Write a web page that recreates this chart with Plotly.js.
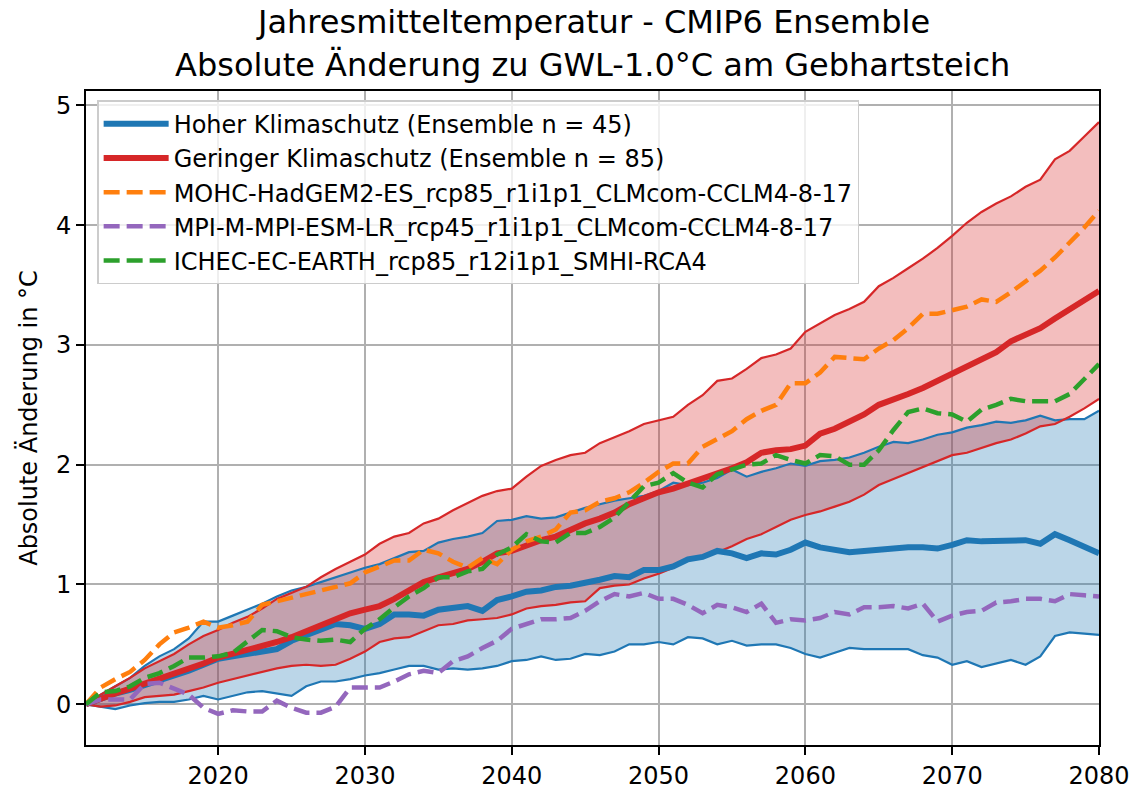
<!DOCTYPE html>
<html>
<head>
<meta charset="utf-8">
<script src="https://cdn.plot.ly/plotly-3.0.1.min.js"></script>
<style>html,body{margin:0;padding:0;background:#fff;}#chart{width:1139px;height:791px;}</style>
</head>
<body>
<div id="chart"></div>
<script>
const startYear = 2011, endYear = 2080;
const years = [];
for (let y = startYear; y <= endYear; y++) years.push(y);

const hoherMean = [0,0.05,0.09,0.12,0.16,0.19,0.23,0.28,0.33,0.38,0.40,0.42,0.44,0.46,0.53,0.58,0.62,0.67,0.66,0.63,0.67,0.75,0.75,0.74,0.79,0.81,0.82,0.78,0.87,0.90,0.94,0.95,0.98,0.99,1.01,1.04,1.07,1.06,1.12,1.12,1.15,1.21,1.23,1.28,1.26,1.22,1.26,1.25,1.29,1.35,1.31,1.29,1.27,1.28,1.29,1.31,1.31,1.31,1.30,1.33,1.37,1.36,1.36,1.36,1.37,1.34,1.42,1.37,1.31,1.26];
const hoherUpper = [0,0.08,0.15,0.22,0.32,0.40,0.46,0.55,0.69,0.69,0.74,0.79,0.84,0.90,0.95,0.98,1.02,1.06,1.10,1.14,1.17,1.22,1.27,1.28,1.35,1.38,1.40,1.43,1.53,1.54,1.57,1.55,1.56,1.60,1.64,1.67,1.70,1.72,1.74,1.78,1.85,1.83,1.85,1.89,1.96,1.90,1.94,1.97,2.01,1.99,2.03,2.04,2.06,2.10,2.15,2.19,2.18,2.21,2.25,2.27,2.31,2.33,2.36,2.35,2.37,2.41,2.37,2.38,2.38,2.45];
const hoherLower = [0,-0.02,-0.04,-0.01,0.01,0.02,0.02,0.04,0.07,0.04,0.07,0.10,0.11,0.09,0.07,0.15,0.19,0.19,0.21,0.24,0.26,0.29,0.32,0.32,0.29,0.30,0.29,0.30,0.32,0.36,0.37,0.40,0.37,0.38,0.42,0.41,0.44,0.50,0.50,0.52,0.50,0.56,0.55,0.50,0.53,0.49,0.50,0.50,0.47,0.42,0.39,0.43,0.47,0.46,0.46,0.46,0.46,0.41,0.39,0.33,0.36,0.31,0.34,0.37,0.33,0.40,0.57,0.60,0.59,0.58];

const geringerMean = [0,0.05,0.09,0.13,0.17,0.21,0.25,0.30,0.34,0.39,0.42,0.46,0.49,0.52,0.56,0.61,0.67,0.72,0.76,0.79,0.82,0.88,0.95,1.02,1.06,1.09,1.13,1.19,1.26,1.28,1.33,1.37,1.40,1.46,1.51,1.55,1.60,1.67,1.72,1.77,1.80,1.84,1.89,1.93,1.97,2.02,2.10,2.12,2.13,2.16,2.26,2.30,2.36,2.42,2.50,2.54,2.59,2.64,2.70,2.77,2.83,2.88,2.94,3.03,3.08,3.14,3.22,3.30,3.37,3.45];
const geringerUpper = [0,0.08,0.15,0.22,0.30,0.36,0.42,0.50,0.57,0.62,0.68,0.73,0.80,0.88,0.93,0.98,1.06,1.13,1.19,1.25,1.34,1.40,1.43,1.51,1.55,1.62,1.68,1.74,1.78,1.80,1.90,1.99,2.04,2.08,2.10,2.18,2.23,2.28,2.34,2.37,2.40,2.50,2.58,2.70,2.72,2.80,2.89,2.92,2.97,3.11,3.18,3.25,3.30,3.36,3.49,3.56,3.64,3.72,3.81,3.91,4.02,4.11,4.18,4.24,4.32,4.38,4.55,4.62,4.74,4.86];
const geringerLower = [0,-0.02,-0.01,0.02,0.06,0.07,0.08,0.11,0.14,0.18,0.21,0.24,0.27,0.30,0.32,0.33,0.32,0.33,0.38,0.44,0.52,0.55,0.56,0.61,0.66,0.67,0.70,0.71,0.72,0.75,0.80,0.82,0.83,0.85,0.86,0.97,0.99,1.00,1.05,1.09,1.14,1.21,1.23,1.27,1.32,1.38,1.42,1.48,1.54,1.58,1.61,1.65,1.69,1.75,1.83,1.88,1.93,1.98,2.03,2.08,2.10,2.14,2.18,2.21,2.26,2.32,2.34,2.40,2.47,2.55];

const mohc = [0,0.14,0.21,0.27,0.37,0.50,0.60,0.64,0.69,0.64,0.66,0.69,0.83,0.86,0.89,0.92,0.95,0.98,1.01,1.10,1.15,1.20,1.20,1.29,1.26,1.19,1.14,1.22,1.17,1.29,1.36,1.40,1.46,1.60,1.62,1.69,1.72,1.77,1.85,1.94,2.01,2.01,2.15,2.21,2.28,2.38,2.45,2.50,2.68,2.68,2.77,2.90,2.89,2.88,2.97,3.04,3.14,3.26,3.26,3.29,3.32,3.38,3.36,3.44,3.53,3.62,3.73,3.85,3.98,4.12];
const mpi = [0,0.04,0.04,0.04,0.17,0.18,0.13,0.08,-0.03,-0.08,-0.05,-0.06,-0.06,0.03,-0.03,-0.07,-0.07,-0.02,0.14,0.14,0.14,0.19,0.25,0.28,0.26,0.36,0.40,0.47,0.53,0.63,0.67,0.71,0.71,0.72,0.78,0.86,0.92,0.90,0.93,0.88,0.88,0.83,0.76,0.83,0.81,0.77,0.84,0.68,0.71,0.70,0.72,0.77,0.75,0.81,0.81,0.82,0.80,0.84,0.69,0.74,0.77,0.78,0.85,0.86,0.88,0.88,0.86,0.92,0.91,0.90];
const ichec = [0,0.10,0.11,0.15,0.22,0.26,0.32,0.39,0.39,0.40,0.43,0.53,0.62,0.61,0.56,0.54,0.53,0.54,0.52,0.63,0.71,0.81,0.90,0.97,1.06,1.06,1.11,1.13,1.25,1.31,1.42,1.36,1.35,1.43,1.43,1.48,1.56,1.69,1.82,1.85,1.93,1.85,1.81,1.92,1.96,2.00,2.01,2.08,2.04,2.01,2.08,2.07,2.00,2.00,2.12,2.29,2.44,2.47,2.43,2.42,2.36,2.46,2.50,2.55,2.53,2.53,2.53,2.59,2.72,2.84];

const labels = [
  "Hoher Klimaschutz (Ensemble n = 45)",
  "Geringer Klimaschutz (Ensemble n = 85)",
  "MOHC-HadGEM2-ES_rcp85_r1i1p1_CLMcom-CCLM4-8-17",
  "MPI-M-MPI-ESM-LR_rcp45_r1i1p1_CLMcom-CCLM4-8-17",
  "ICHEC-EC-EARTH_rcp85_r12i1p1_SMHI-RCA4"
];
const titleLines = ["Jahresmitteltemperatur - CMIP6 Ensemble", "Absolute Änderung zu GWL-1.0°C am Gebhartsteich"];
const xTicks = [2020, 2030, 2040, 2050, 2060, 2070, 2080];
const yTicks = [0, 1, 2, 3, 4, 5];

const BLUE = "#1f77b4", RED = "#d62728", ORANGE = "#ff7f0e", PURPLE = "#9467bd", GREEN = "#2ca02c";
const DASH = "16px,7px";

function band(y, fill, fillcolor) {
  const t = {x: years, y: y, mode: "lines", line: {width: 0, color: "rgba(0,0,0,0)"}, showlegend: false, hoverinfo: "skip"};
  if (fill) { t.fill = "tonexty"; t.fillcolor = fillcolor; }
  return t;
}
function edge(y, color) {
  return {x: years, y: y, mode: "lines", line: {color: color, width: 2.2}, showlegend: false, hoverinfo: "skip"};
}

const traces = [
  band(hoherLower, false),
  band(hoherUpper, true, "rgba(31,119,180,0.3)"),
  band(geringerLower, false),
  band(geringerUpper, true, "rgba(214,39,40,0.3)"),
  edge(hoherLower, BLUE),
  edge(hoherUpper, BLUE),
  edge(geringerLower, RED),
  edge(geringerUpper, RED),
  {x: years, y: hoherMean, mode: "lines", name: labels[0], line: {color: BLUE, width: 6}},
  {x: years, y: geringerMean, mode: "lines", name: labels[1], line: {color: RED, width: 6}},
  {x: years, y: mohc, mode: "lines", name: labels[2], line: {color: ORANGE, width: 4.5, dash: DASH}},
  {x: years, y: mpi, mode: "lines", name: labels[3], line: {color: PURPLE, width: 4.5, dash: DASH}},
  {x: years, y: ichec, mode: "lines", name: labels[4], line: {color: GREEN, width: 4.5, dash: DASH}}
];

const layout = {
  width: 1139, height: 791,
  paper_bgcolor: "#fff", plot_bgcolor: "#fff",
  font: {family: "DejaVu Sans", size: 24, color: "#000"},
  margin: {l: 86, r: 40, t: 91, b: 46},
  annotations: [
    {text: titleLines[0], xref: "paper", yref: "paper", x: 0.5, y: 1.1055, xanchor: "center", yanchor: "middle", showarrow: false, font: {family: "DejaVu Sans", size: 32, color: "#000"}},
    {text: titleLines[1], xref: "paper", yref: "paper", x: 0.5, y: 1.0398, xanchor: "center", yanchor: "middle", showarrow: false, font: {family: "DejaVu Sans", size: 32, color: "#000"}}
  ],
  xaxis: {
    range: [2011, 2080], tickvals: xTicks, ticktext: xTicks.map(String),
    showgrid: true, gridcolor: "#b0b0b0", gridwidth: 2,
    zeroline: false, showline: true, linecolor: "#000", linewidth: 2, mirror: true,
    ticks: "outside", ticklen: 8, tickwidth: 2, tickcolor: "#000",
    tickfont: {size: 24}
  },
  yaxis: {
    range: [-0.34, 5.12], tickvals: yTicks, ticktext: yTicks.map(String),
    showgrid: true, gridcolor: "#b0b0b0", gridwidth: 2,
    zeroline: false, showline: true, linecolor: "#000", linewidth: 2, mirror: true,
    ticks: "outside", ticklen: 8, tickwidth: 2, tickcolor: "#000",
    tickfont: {size: 24},
    title: {text: "Absolute Änderung in °C", font: {size: 24}, standoff: 12}
  },
  legend: {
    x: 0.011, y: 0.986, xanchor: "left", yanchor: "top",
    traceorder: "normal",
    bgcolor: "rgba(255,255,255,0.8)", bordercolor: "#cccccc", borderwidth: 1.5,
    font: {size: 24}, tracegroupgap: 0, itemwidth: 65
  },
  showlegend: true
};

Plotly.newPlot("chart", traces, layout, {staticPlot: true, displayModeBar: false});
</script>
</body>
</html>
